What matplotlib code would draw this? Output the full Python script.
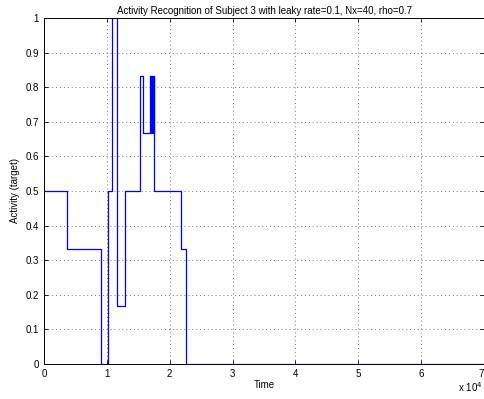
import numpy as np
from matplotlib import pyplot as plt

plt.rcParams['font.family'] = ['Liberation Sans', 'DejaVu Sans']

# step changes of the recognised activity (time, level)
times = [0, 3650, 9050, 10150, 10850, 11600, 12900, 15300, 15800, 16850,
         16950, 17050, 17150, 17250, 17350, 17450, 17550, 21750, 22550, 70000]
levels = [0.5, 1/3, 0, 0.5, 1, 1/6, 0.5, 5/6, 2/3, 5/6,
          2/3, 5/6, 2/3, 5/6, 2/3, 5/6, 0.5, 1/3, 0, 0]

xticks = np.arange(0, 8)
yticks = np.round(np.arange(0, 1.01, 0.1), 1)

fig = plt.figure(figsize=(4.85, 3.99), dpi=100)
ax = fig.add_axes([0.0907, 0.0877, 0.9073, 0.8673])

ax.step(times, levels, where='post', color='#0000ff', lw=0.9)

ax.set_xlim(0, 70000)
ax.set_ylim(0, 1)
ax.set_xticks(xticks * 1e4)
ax.set_xticklabels([str(t) for t in xticks])
ax.get_xticklabels()[-1].set_ha('right')
ax.set_yticks(yticks)
ax.set_yticklabels(['0' if v == 0 else ('1' if v == 1 else str(v)) for v in yticks])
ax.tick_params(direction='in', length=3, labelsize=7, width=0.6, top=True, right=True)
ax.grid(True, linestyle=(0, (1, 3)), color='#777777', lw=0.7)
for s in ax.spines.values():
    s.set_linewidth(0.7)

ax.set_title('Activity Recognition of Subject 3 with leaky rate=0.1, Nx=40, rho=0.7', fontsize=7, pad=3)
ax.set_xlabel('Time', fontsize=7, labelpad=1)
ax.set_ylabel('Activity (target)', fontsize=7, labelpad=4)
fig.text(0.995, 0.012, r'x 10$^4$', fontsize=7, ha='right', va='bottom')

fig.savefig('out.png', dpi=100)
